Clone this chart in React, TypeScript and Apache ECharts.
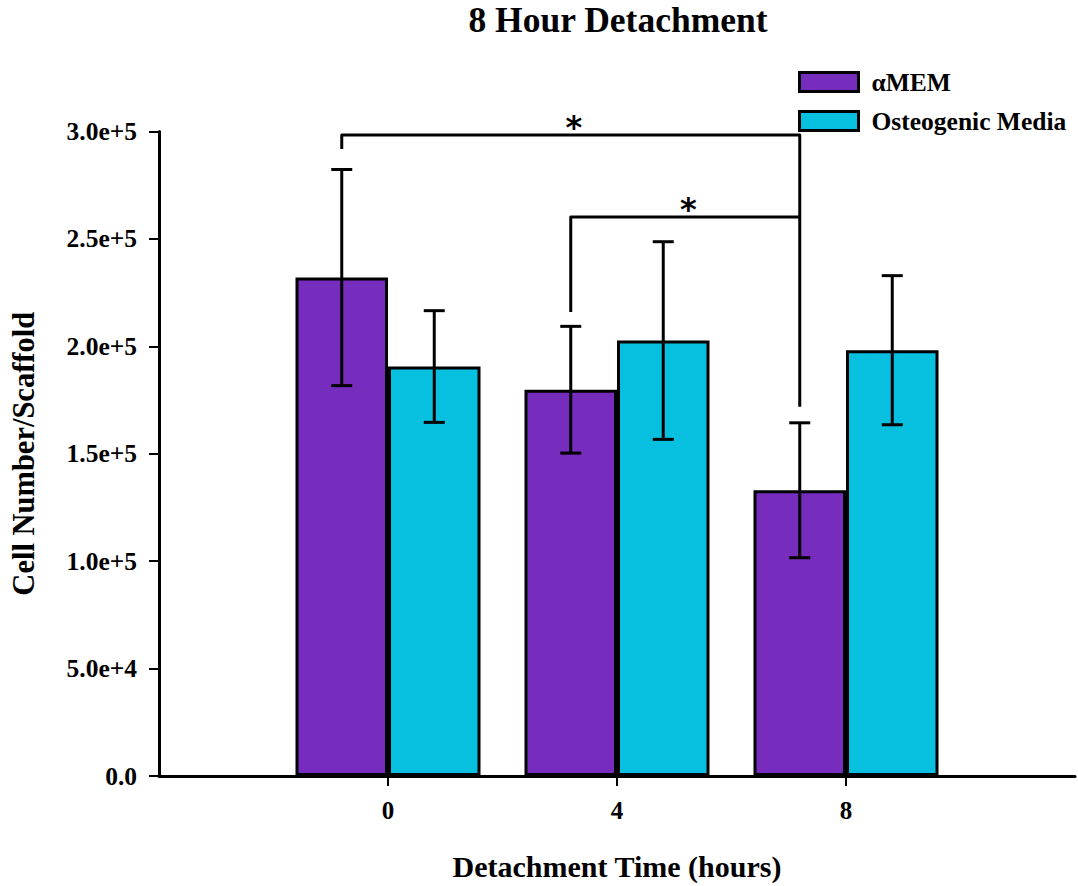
import React, { useEffect, useRef } from "react";
import * as echarts from "echarts";

// Detachment time points (hours)
const timePoints = ["0", "4", "8"];

// Cell number per scaffold, mean and error (±)
const alphaMEM = [232000, 179800, 133000];
const alphaMEMErr = [50300, 29500, 31400];
const osteogenic = [190600, 202700, 198200];
const osteogenicErr = [26000, 46000, 34700];

const seriesNames = ["αMEM", "Osteogenic Media"];

// y-axis range and ticks
const yMin = 0;
const yMax = 300000;
const yInterval = 50000;

// Significance brackets between αMEM groups (group indexes, bracket height, leg ends)
const bracketFrom = [0, 1];
const bracketTo = [2, 2];
const bracketTop = [298400, 260200];
const bracketFromEnd = [291900, 216000];
const bracketToEnd = [171900, 260200];
const bracketMark = ["*", "*"];

const FONT = "'Liberation Serif', 'Times New Roman', serif";
const PURPLE = "#762cbc";
const CYAN = "#07c0e0";
const BAR_W = 92.5;

export default function App() {
  const ref = useRef<HTMLDivElement>(null);

  useEffect(() => {
    if (!ref.current) return;
    const chart = echarts.init(ref.current, undefined, { renderer: "svg" });

    // pad the category axis with an empty slot on each side
    const categories = ["", ...timePoints, ""];
    const pad = (arr: number[]) => ["-", ...arr, "-"];

    const errData = (vals: number[], errs: number[]) =>
      vals.map((v, i) => [i + 1, v - errs[i], v + errs[i]]);

    const errRender = (offset: number) => (params: any, api: any) => {
      const idx = api.value(0);
      const lo = api.coord([idx, api.value(1)]);
      const hi = api.coord([idx, api.value(2)]);
      const x = lo[0] + offset;
      const cap = 10.5;
      const style = { stroke: "#000", lineWidth: 3 };
      return {
        type: "group",
        children: [
          { type: "line", shape: { x1: x, y1: lo[1], x2: x, y2: hi[1] }, style },
          { type: "line", shape: { x1: x - cap, y1: hi[1], x2: x + cap, y2: hi[1] }, style },
          { type: "line", shape: { x1: x - cap, y1: lo[1], x2: x + cap, y2: lo[1] }, style },
        ],
      };
    };

    const bracketData = bracketFrom.map((f, i) => [
      f + 1,
      bracketTo[i] + 1,
      bracketTop[i],
      bracketFromEnd[i],
      bracketToEnd[i],
      i,
    ]);

    const bracketRender = (params: any, api: any) => {
      const off = -BAR_W / 2;
      const a = api.coord([api.value(0), api.value(3)]);
      const b = api.coord([api.value(0), api.value(2)]);
      const c = api.coord([api.value(1), api.value(2)]);
      const d = api.coord([api.value(1), api.value(4)]);
      const pts = [
        [a[0] + off, a[1]],
        [b[0] + off, b[1]],
        [c[0] + off, c[1]],
        [d[0] + off, d[1]],
      ];
      const midX = (b[0] + c[0]) / 2 + off;
      return {
        type: "group",
        children: [
          {
            type: "polyline",
            shape: { points: pts },
            style: { stroke: "#000", lineWidth: 3, fill: null, lineJoin: "round" },
          },
          {
            type: "text",
            style: {
              text: bracketMark[api.value(5)],
              x: midX + 3,
              y: b[1] - 8,
              textAlign: "center",
              textVerticalAlign: "middle",
              fontSize: 32,
              fontWeight: "bold",
              fontFamily: "'DejaVu Sans', sans-serif",
              fill: "#000",
            },
          },
        ],
      };
    };

    chart.setOption({
      animation: false,
      backgroundColor: "#fff",
      title: {
        text: "8 Hour Detachment",
        left: 618,
        textAlign: "center",
        top: 2,
        padding: 0,
        textStyle: { fontFamily: FONT, fontWeight: "bold", fontSize: 35.5, color: "#000" },
      },
      legend: {
        data: seriesNames,
        orient: "vertical",
        left: 798,
        top: 69,
        padding: 0,
        itemWidth: 59,
        itemHeight: 19,
        itemGap: 13,
        icon: "rect",
        itemStyle: { borderColor: "#000", borderWidth: 3 },
        textStyle: {
          fontFamily: FONT,
          fontWeight: "bold",
          fontSize: 25.5,
          color: "#000",
          padding: [0, 0, 0, 8],
        },
      },
      grid: { left: 157, right: 0, top: 131.5, bottom: 109.5, containLabel: false },
      xAxis: {
        type: "category",
        data: categories,
        boundaryGap: false,
        name: "Detachment Time (hours)",
        nameLocation: "middle",
        nameGap: 75,
        nameTextStyle: { fontFamily: FONT, fontWeight: "bold", fontSize: 30, color: "#000" },
        axisLine: { lineStyle: { color: "#000", width: 3 } },
        axisTick: {
          length: 10,
          lineStyle: { color: "#000", width: 2 },
          interval: (i: number) => i > 0 && i < categories.length - 1,
        },
        axisLabel: {
          interval: 0,
          margin: 22,
          fontFamily: FONT,
          fontWeight: "bold",
          fontSize: 25,
          color: "#000",
        },
        splitLine: { show: false },
      },
      yAxis: {
        type: "value",
        min: yMin,
        max: yMax,
        interval: yInterval,
        name: "Cell Number/Scaffold",
        nameLocation: "middle",
        nameGap: 120,
        nameTextStyle: { fontFamily: FONT, fontWeight: "bold", fontSize: 30.5, color: "#000" },
        axisLine: { show: true, lineStyle: { color: "#000", width: 3 } },
        axisTick: { show: true, length: 10, lineStyle: { color: "#000", width: 2 } },
        axisLabel: {
          margin: 22,
          fontFamily: FONT,
          fontWeight: "bold",
          fontSize: 25.5,
          color: "#000",
          formatter: (v: number) => (v === 0 ? "0.0" : v.toExponential(1)),
        },
        splitLine: { show: false },
      },
      series: [
        {
          name: seriesNames[0],
          type: "bar",
          data: pad(alphaMEM),
          barWidth: BAR_W,
          barGap: "0%",
          itemStyle: { color: PURPLE, borderColor: "#000", borderWidth: 3 },
        },
        {
          name: seriesNames[1],
          type: "bar",
          data: pad(osteogenic),
          barWidth: BAR_W,
          barGap: "0%",
          itemStyle: { color: CYAN, borderColor: "#000", borderWidth: 3 },
        },
        {
          type: "custom",
          renderItem: errRender(-BAR_W / 2),
          data: errData(alphaMEM, alphaMEMErr),
          encode: { x: 0, y: [1, 2] },
          z: 5,
        },
        {
          type: "custom",
          renderItem: errRender(BAR_W / 2),
          data: errData(osteogenic, osteogenicErr),
          encode: { x: 0, y: [1, 2] },
          z: 5,
        },
        {
          type: "custom",
          renderItem: bracketRender,
          data: bracketData,
          encode: { x: 0, y: 2 },
          z: 6,
        },
      ],
    });

    return () => chart.dispose();
  }, []);

  return (
    <div
      ref={ref}
      style={{ position: "absolute", left: 0, top: 0, width: 1078, height: 886, background: "#fff" }}
    />
  );
}
